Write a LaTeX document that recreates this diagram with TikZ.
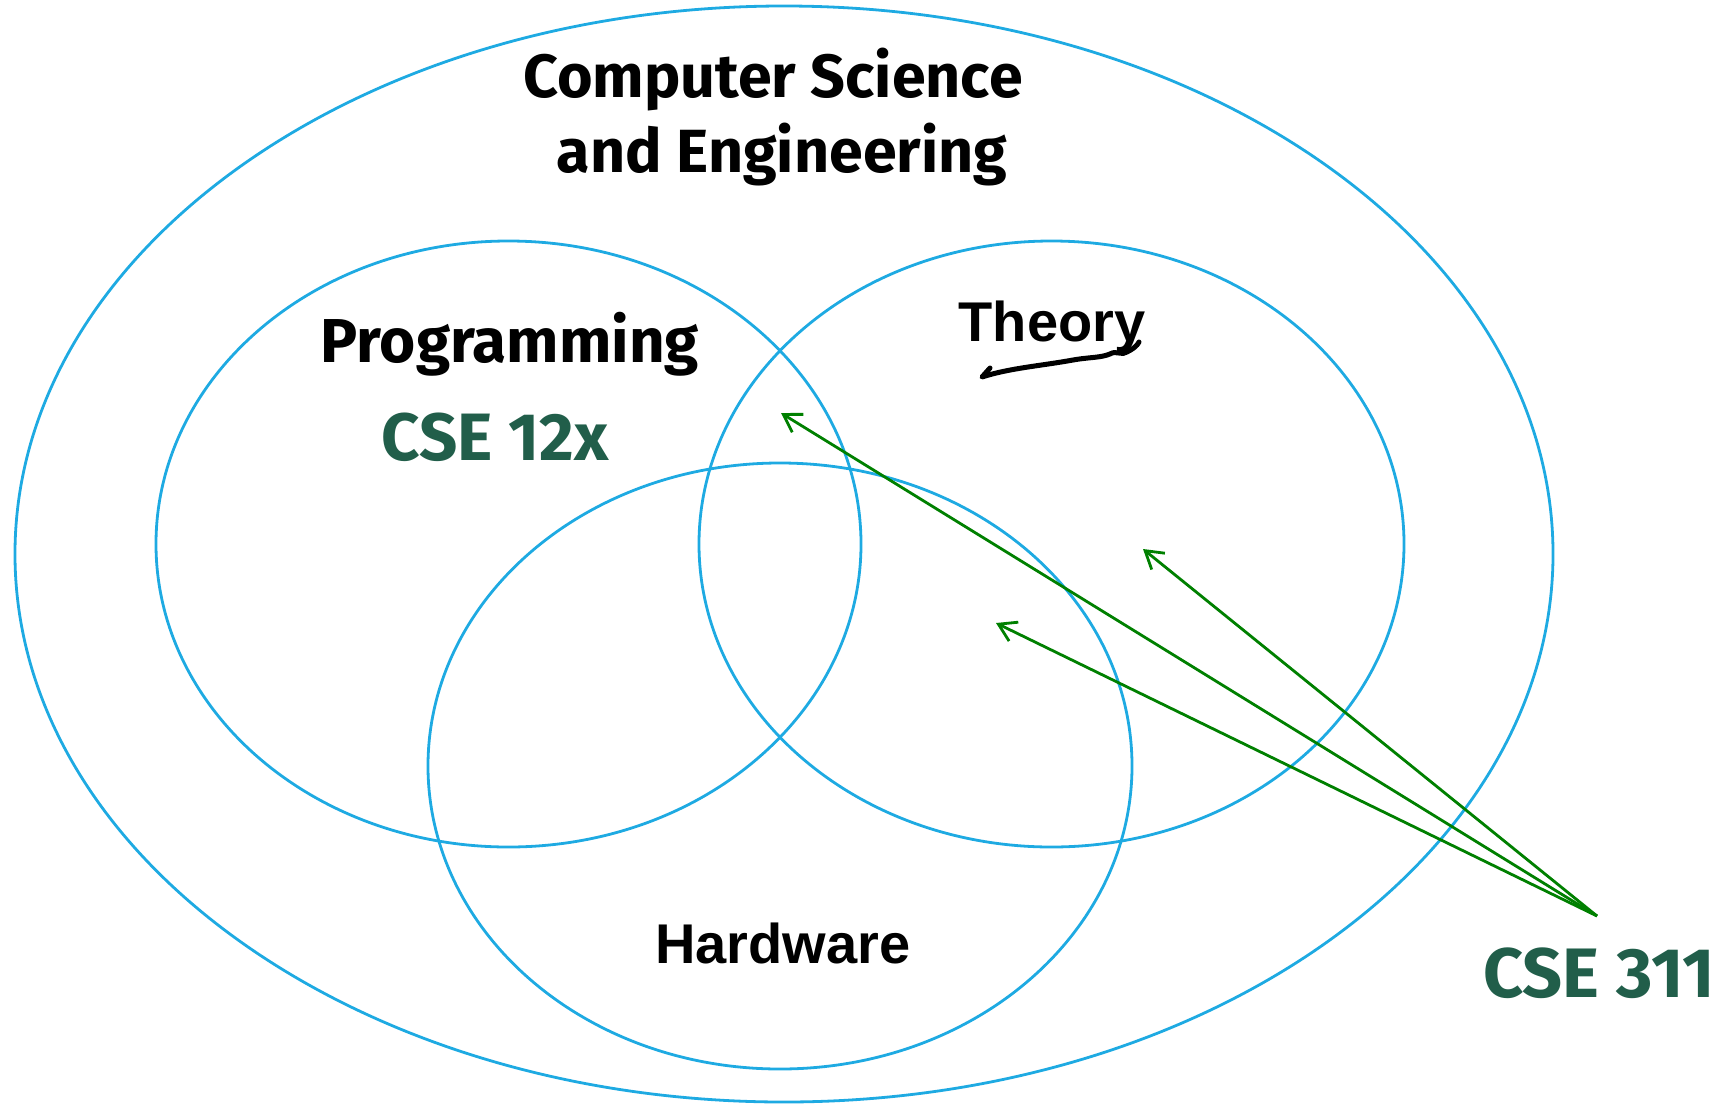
\documentclass[tikz,border=0pt]{standalone}
\usepackage{fontspec}
\usetikzlibrary{arrows.meta}
\newfontfamily\labfont{Fira Sans}
\newfontfamily\arialw{Liberation Sans}
\definecolor{vennblue}{RGB}{30,170,226}
\definecolor{arrgreen}{RGB}{0,128,0}
\definecolor{txtgreen}{RGB}{33,94,74}
\begin{document}
\begin{tikzpicture}[x=1bp,y=-1bp,
  venn/.style={draw=vennblue,line width=2.8bp},
  bigtext/.style={anchor=base,inner sep=0pt,font=\labfont\bfseries\fontsize{61bp}{64bp}\selectfont},
  cselab/.style={anchor=base,inner sep=0pt,text=txtgreen,font=\labfont\bfseries\fontsize{67bp}{70bp}\selectfont},
  arialtext/.style={anchor=base,inner sep=0pt,font=\arialw\bfseries\fontsize{56bp}{60bp}\selectfont},
  pointer/.style={draw=arrgreen,line width=2.8bp,-{Straight Barb[length=17bp,width=21bp,line width=2.8bp]}}]
\useasboundingbox (0,0) rectangle (1724,1103);
% ellipses
\draw[venn] (784,554) ellipse [x radius=769bp, y radius=548bp];
\draw[venn] (508.5,544) ellipse [x radius=352.5bp, y radius=303bp];
\draw[venn] (1051.5,544) ellipse [x radius=352.5bp, y radius=303bp];
\draw[venn] (780,766) ellipse [x radius=352bp, y radius=303bp];
% texts
\node[bigtext] (cs1) at (773,97) {Computer Science};
\node[bigtext] (cs2) at (782,172) {and Engineering};
\node[bigtext,font=\labfont\bfseries\fontsize{62bp}{64bp}\selectfont] (prog) at (510,362) {Programming};
\node[cselab] (c12) at (495,460) {CSE 12x};
\node[arialtext] (theory) at (1052,341) {Theory};
\node[arialtext] (hw) at (783,963) {Hardware};
\node[cselab,font=\labfont\bfseries\fontsize{70bp}{72bp}\selectfont] (c311) at (1599,997) {CSE 311};
% squiggle
\draw[line width=5bp,line cap=round,line join=round]
  (990,368) -- (982,377) .. controls (1010,368) and (1040,366) .. (1073,360)
  .. controls (1090,357) and (1100,358) .. (1110,354)
  .. controls (1116,350) and (1122,356) .. (1127,352)
  .. controls (1133,349) and (1137,346) .. (1139,342);
% arrows
\coordinate (src) at (1597,916);
\coordinate (t1) at (781,413);
\coordinate (t2) at (1143,549);
\coordinate (t3) at (996,623);
\draw[pointer] (src) -- (t1);
\draw[pointer] (src) -- (t2);
\draw[pointer] (src) -- (t3);
\end{tikzpicture}
\end{document}
